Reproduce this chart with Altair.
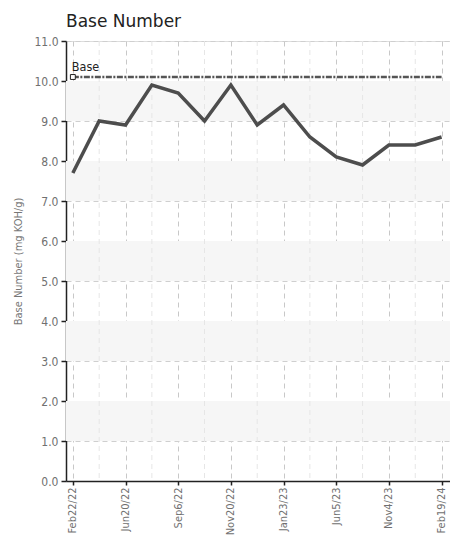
import altair as alt
import pandas as pd

# ---- data ----
sample_idx = list(range(15))
base_number = [7.7, 9.0, 8.9, 9.9, 9.7, 9.0, 9.9, 8.9, 9.4, 8.6, 8.1, 7.9, 8.4, 8.4, 8.6]
tick_positions = [0, 2, 4, 6, 8, 10, 12, 14]
tick_labels = ["Feb22/22", "Jun20/22", "Sep6/22", "Nov20/22", "Jan23/23", "Jun5/23", "Nov4/23", "Feb19/24"]
y_ticks = [0, 1, 2, 3, 4, 5, 6, 7, 8, 9, 10, 11]
minor_positions = [1, 3, 5, 7, 9, 11, 13]
band_lo = [1, 3, 5, 7, 9]
band_hi = [2, 4, 6, 8, 10]
base_value = 10.1
base_label = "Base"

W, H = 384, 440
FONT = "DejaVu Sans Condensed, Liberation Sans, sans-serif"
XDOM = [-0.26, 14.32]
YDOM = [0, 11]

df = pd.DataFrame({"i": sample_idx, "v": base_number})
bands = pd.DataFrame({"lo": band_lo, "hi": band_hi})
minor = pd.DataFrame({"i": minor_positions})
base_df = pd.DataFrame({"i": [0, 14], "v": [base_value, base_value]})
base_pt = pd.DataFrame({"i": [0], "v": [base_value], "t": [base_label]})

label_map = "{" + ",".join(f'"{p}":"{l}"' for p, l in zip(tick_positions, tick_labels)) + "}"

xscale = alt.Scale(domain=XDOM, nice=False, zero=False)
yscale = alt.Scale(domain=YDOM, nice=False)

xaxis = alt.Axis(values=tick_positions,
                 labelExpr=f"{label_map}[datum.value]",
                 labelAngle=270, labelAlign="right", labelBaseline="middle",
                 labelFont=FONT, labelFontSize=11, labelColor="#707070",
                 labelPadding=2, labelOverlap=False, labelFlush=False,
                 domainColor="#222", domainWidth=1.5,
                 tickColor="#222", tickSize=4, tickWidth=1.5,
                 grid=True, gridColor="#c8c8c8", gridDash=[5, 4])
yaxis = alt.Axis(values=y_ticks, labelExpr="format(datum.value, '.1f')",
                 labelFont=FONT, labelFontSize=12, labelColor="#707070",
                 labelPadding=3, labelOverlap=False, labelFlush=False,
                 titleFont=FONT, titleFontSize=11, titleColor="#777",
                 titleFontWeight="normal", titlePadding=10,
                 domainColor="#222", domainWidth=1.5,
                 tickColor="#222", tickSize=5, tickWidth=1.5,
                 grid=True, gridColor="#cfcfcf", gridDash=[5, 4])
YT = "Base Number (mg KOH/g)"

def X(f):
    return alt.X(f, scale=xscale, axis=xaxis, title=None)

def Y(f):
    return alt.Y(f, scale=yscale, axis=yaxis, title=YT)

band_layer = alt.Chart(bands).mark_rect(color="#f6f6f6").encode(
    x=alt.value(0), x2=alt.value(W),
    y=Y("lo:Q"), y2="hi:Q",
)

minor_layer = alt.Chart(minor).mark_rule(color="#e6e6e6", strokeDash=[5, 4], strokeWidth=1).encode(
    x=X("i:Q")
)

line = alt.Chart(df).mark_line(color="#4d4d4d", strokeWidth=3.5).encode(
    x=X("i:Q"), y=Y("v:Q"),
)

base_line = alt.Chart(base_df).mark_line(color="#555555", strokeWidth=2.5, strokeDash=[6, 1.5, 2, 1.5]).encode(
    x=X("i:Q"), y=Y("v:Q")
)

base_marker = alt.Chart(base_pt).mark_point(shape="square", size=24, filled=True, fill="white",
                                            stroke="#222", strokeWidth=1, opacity=1).encode(
    x=X("i:Q"), y=Y("v:Q")
)

base_text = alt.Chart(base_pt).mark_text(align="left", baseline="bottom", dx=-1, dy=-3,
                                         font=FONT, fontSize=12.5, color="#222").encode(
    x=X("i:Q"), y=Y("v:Q"), text="t:N"
)

chart = alt.layer(band_layer, minor_layer, line, base_line, base_marker, base_text).properties(
    width=W, height=H,
    title=alt.TitleParams("Base Number", anchor="start", frame="group", font="DejaVu Sans",
                          fontSize=17, fontWeight="normal", color="#222", offset=4),
    autosize=alt.AutoSizeParams(type="none"),
    padding={"left": 58, "top": 33, "right": 0, "bottom": 54},
).configure_view(stroke=None).configure(background="white")

chart.save("out.html", embed_options={"renderer": "svg", "actions": False})
